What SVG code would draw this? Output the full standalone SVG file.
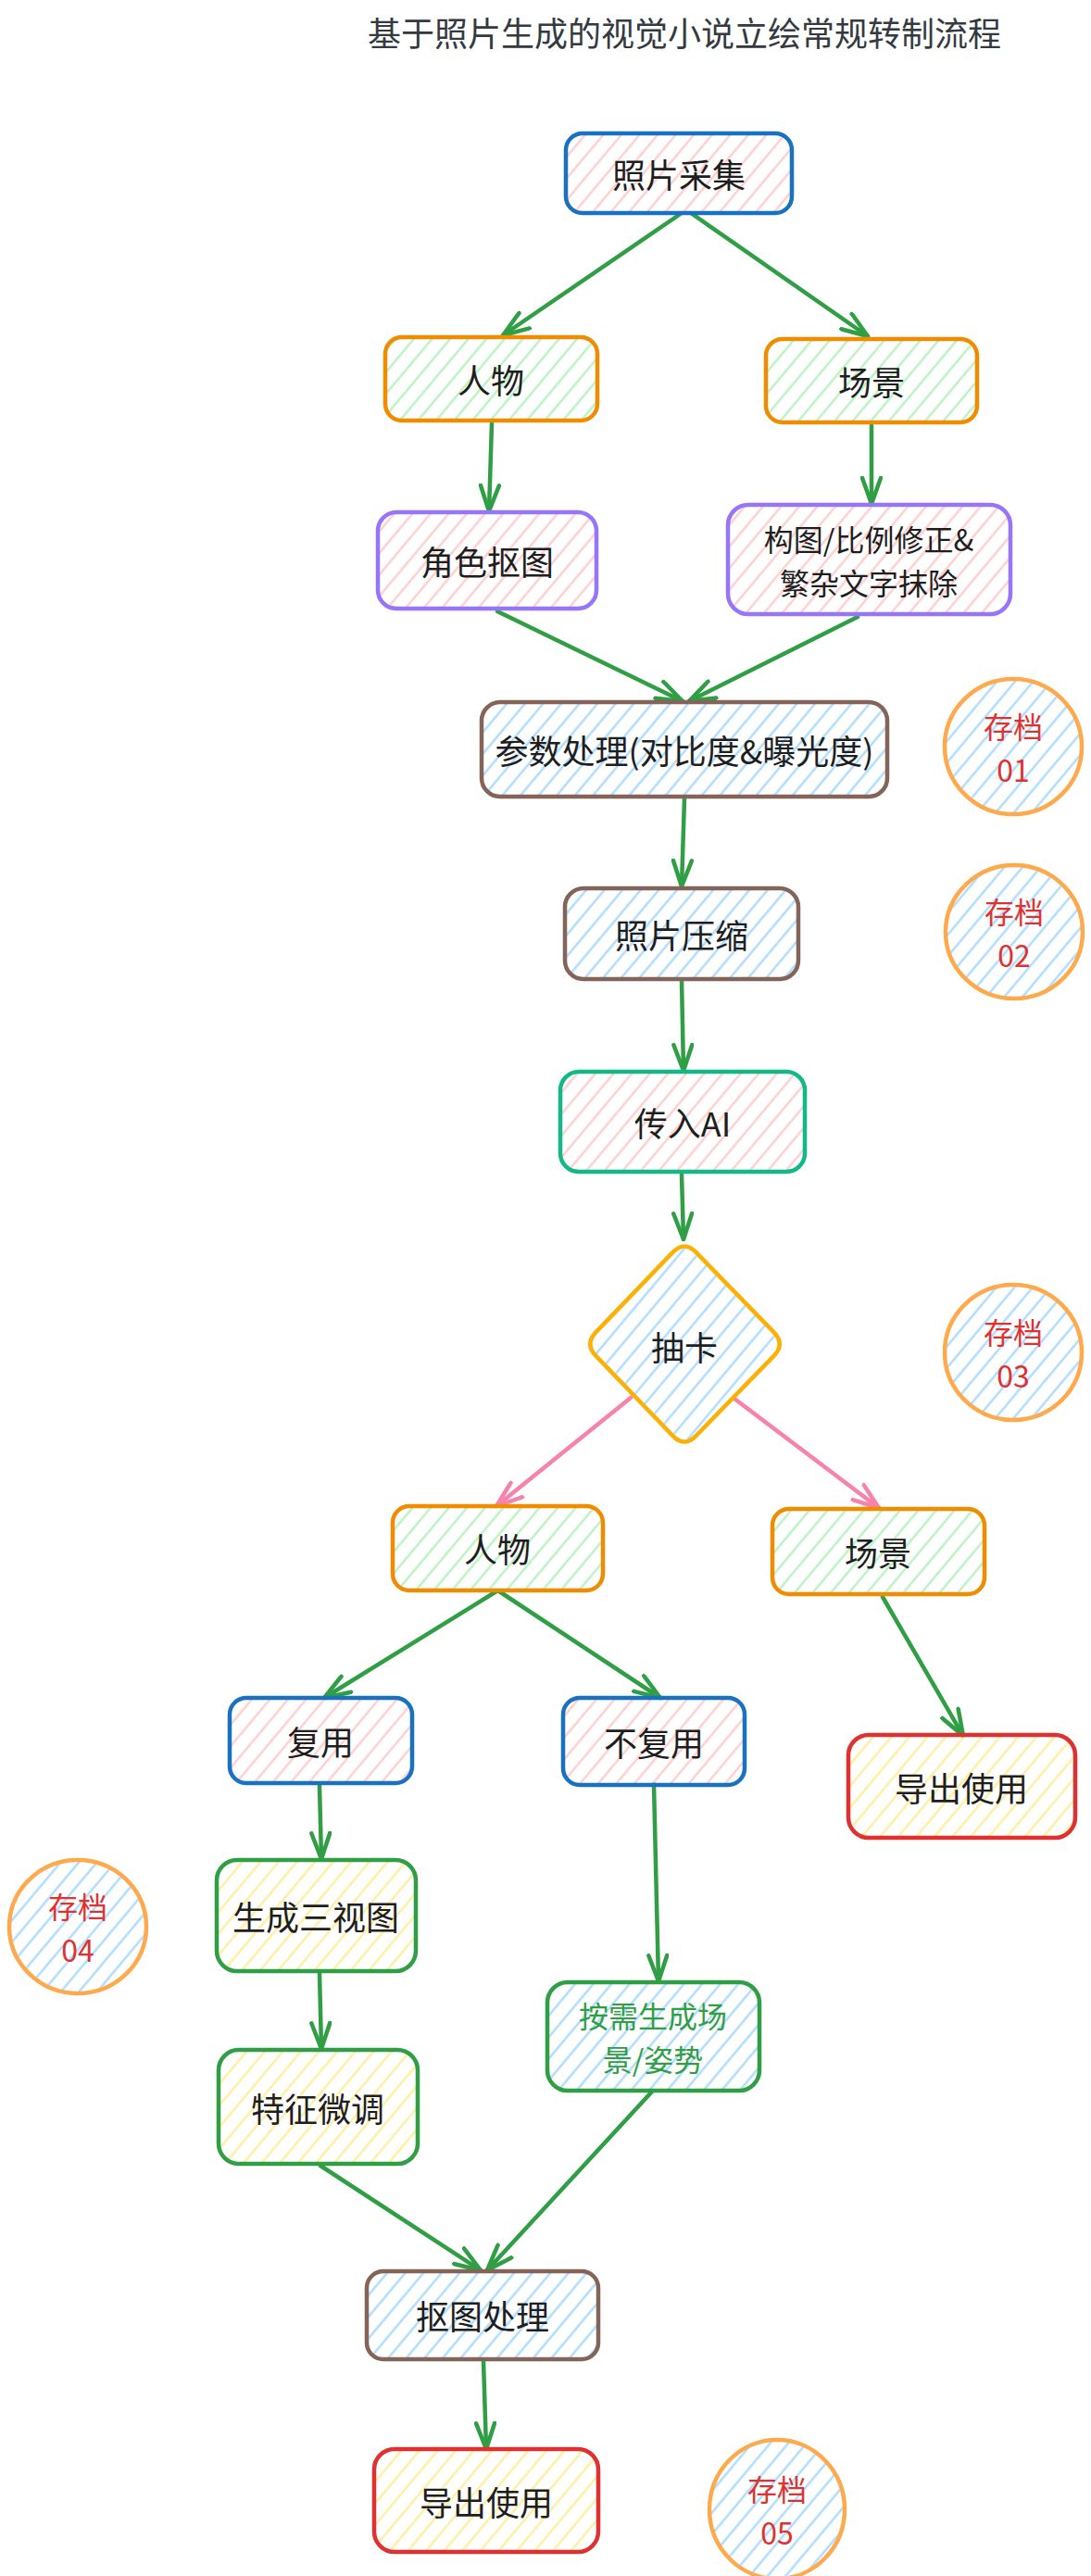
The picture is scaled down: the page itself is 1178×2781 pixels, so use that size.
<svg xmlns="http://www.w3.org/2000/svg" width="1178" height="2781" viewBox="0 0 1178 2781">
<defs>
<pattern id="hp" patternUnits="userSpaceOnUse" width="15" height="15" patternTransform="rotate(40)"><line x1="7.5" y1="0" x2="7.5" y2="15" stroke="#ffc9c9" stroke-width="2.2"/></pattern>
<pattern id="hg" patternUnits="userSpaceOnUse" width="15" height="15" patternTransform="rotate(40)"><line x1="7.5" y1="0" x2="7.5" y2="15" stroke="#b2f2bb" stroke-width="2.2"/></pattern>
<pattern id="hb" patternUnits="userSpaceOnUse" width="15" height="15" patternTransform="rotate(40)"><line x1="7.5" y1="0" x2="7.5" y2="15" stroke="#a5d8ff" stroke-width="2.2"/></pattern>
<pattern id="hy" patternUnits="userSpaceOnUse" width="15" height="15" patternTransform="rotate(40)"><line x1="7.5" y1="0" x2="7.5" y2="15" stroke="#ffec99" stroke-width="2.2"/></pattern>
<marker id="ag" viewBox="0 0 32 24" refX="30" refY="12" markerWidth="32" markerHeight="24" markerUnits="userSpaceOnUse" orient="auto"><path d="M2,2 L30,12 L2,22" fill="none" stroke="#2f9e44" stroke-width="4.5" stroke-linecap="round" stroke-linejoin="round"/></marker>
<marker id="ap" viewBox="0 0 32 24" refX="30" refY="12" markerWidth="32" markerHeight="24" markerUnits="userSpaceOnUse" orient="auto"><path d="M2,2 L30,12 L2,22" fill="none" stroke="#f783ac" stroke-width="4.5" stroke-linecap="round" stroke-linejoin="round"/></marker>
</defs>
<style>
.t{font-family:"Noto Sans CJK SC","Noto Sans",sans-serif;font-size:36px;fill:#1e1e1e;text-anchor:middle;dominant-baseline:central}
.m{font-size:32px}
.title{fill:#343a40}
.red{fill:#e03131}
.grn{fill:#2f9e44}
.n{stroke-width:4.5;stroke-linejoin:round}
.c{fill:url(#hb);stroke:#ffa94d;stroke-width:4.5}
.g{stroke:#2f9e44;stroke-width:4.5;fill:none;stroke-linecap:round;marker-end:url(#ag)}
.p{stroke:#f783ac;stroke-width:4.5;fill:none;stroke-linecap:round;marker-end:url(#ap)}
</style>
<rect width="1178" height="2781" fill="#ffffff"/>
<text class="t title" x="739" y="34">基于照片生成的视觉小说立绘常规转制流程</text>

<g id="connectors">
<line class="g" x1="736" y1="230" x2="543" y2="362"/>
<line class="g" x1="746" y1="230" x2="937" y2="363"/>
<line class="g" x1="531" y1="457" x2="528" y2="552"/>
<line class="g" x1="941" y1="459" x2="941" y2="544"/>
<line class="g" x1="537" y1="660" x2="737" y2="757"/>
<line class="g" x1="926" y1="666" x2="744" y2="757"/>
<line class="g" x1="739" y1="862" x2="736" y2="957"/>
<line class="g" x1="736" y1="1058" x2="738" y2="1156"/>
<line class="g" x1="736" y1="1268" x2="738" y2="1338"/>
<line class="p" x1="681" y1="1509" x2="536" y2="1626"/>
<line class="p" x1="793" y1="1510" x2="949" y2="1628"/>
<line class="g" x1="536" y1="1718" x2="350" y2="1833"/>
<line class="g" x1="539" y1="1718" x2="713" y2="1833"/>
<line class="g" x1="953" y1="1724" x2="1040" y2="1874"/>
<line class="g" x1="345" y1="1928" x2="347" y2="2007"/>
<line class="g" x1="706" y1="1926" x2="711" y2="2139"/>
<line class="g" x1="345" y1="2130" x2="347" y2="2212"/>
<line class="g" x1="346" y1="2338" x2="519" y2="2451"/>
<line class="g" x1="704" y1="2258" x2="526" y2="2451"/>
<line class="g" x1="522" y1="2549" x2="525" y2="2644"/>
</g>

<g id="n1"><rect class="n" x="611" y="144" width="244" height="86" rx="18" fill="url(#hp)" stroke="#1971c2"/><text class="t" x="733" y="187">照片采集</text></g>
<g id="n2"><rect class="n" x="416" y="364" width="229" height="90" rx="18" fill="url(#hg)" stroke="#f08c00"/><text class="t" x="530" y="409">人物</text></g>
<g id="n3"><rect class="n" x="827" y="366" width="228" height="90" rx="18" fill="url(#hg)" stroke="#f08c00"/><text class="t" x="941" y="411">场景</text></g>
<g id="n4"><rect class="n" x="408" y="553" width="236" height="104" rx="20" fill="url(#hp)" stroke="#9775fa"/><text class="t" x="526" y="605">角色抠图</text></g>
<g id="n5"><rect class="n" x="786" y="545" width="305" height="118" rx="22" fill="url(#hp)" stroke="#9775fa"/><text class="t m"><tspan x="938" y="581">构图/比例修正&amp;</tspan><tspan x="938" y="628">繁杂文字抹除</tspan></text></g>
<g id="n6"><rect class="n" x="520" y="758" width="438" height="102" rx="20" fill="url(#hb)" stroke="#846358"/><text class="t" x="739" y="809">参数处理(对比度&amp;曝光度)</text></g>
<g id="n7"><rect class="n" x="610" y="959" width="252" height="98" rx="20" fill="url(#hb)" stroke="#846358"/><text class="t" x="736" y="1008">照片压缩</text></g>
<g id="n8"><rect class="n" x="605" y="1157" width="264" height="108" rx="20" fill="url(#hp)" stroke="#12b886"/><text class="t" x="737" y="1211">传入AI</text></g>
<g id="n9"><path class="n" d="M751.5,1351.9 L835.5,1438.1 Q848,1451 835.5,1463.9 L751.5,1550.1 Q739,1563 726.5,1550.1 L643.5,1463.9 Q631,1451 643.5,1438.1 L726.5,1351.9 Q739,1339 751.5,1351.9 Z" fill="url(#hb)" stroke="#fab005"/><text class="t" x="739" y="1453">抽卡</text></g>
<g id="n10"><rect class="n" x="424" y="1626" width="227" height="91" rx="18" fill="url(#hg)" stroke="#f08c00"/><text class="t" x="537" y="1671">人物</text></g>
<g id="n11"><rect class="n" x="834" y="1629" width="229" height="92" rx="18" fill="url(#hg)" stroke="#f08c00"/><text class="t" x="948" y="1675">场景</text></g>
<g id="n12"><rect class="n" x="248" y="1833" width="197" height="92" rx="18" fill="url(#hp)" stroke="#1971c2"/><text class="t" x="346" y="1879">复用</text></g>
<g id="n13"><rect class="n" x="608" y="1833" width="196" height="94" rx="18" fill="url(#hp)" stroke="#1971c2"/><text class="t" x="706" y="1880">不复用</text></g>
<g id="n14"><rect class="n" x="916" y="1873" width="245" height="111" rx="22" fill="url(#hy)" stroke="#e03131"/><text class="t" x="1038" y="1929">导出使用</text></g>
<g id="n15"><rect class="n" x="234" y="2008" width="215" height="120" rx="22" fill="url(#hy)" stroke="#2f9e44"/><text class="t" x="341" y="2068">生成三视图</text></g>
<g id="n16"><rect class="n" x="236" y="2213" width="215" height="123" rx="22" fill="url(#hy)" stroke="#2f9e44"/><text class="t" x="343" y="2275">特征微调</text></g>
<g id="n17"><rect class="n" x="591" y="2140" width="229" height="117" rx="22" fill="url(#hb)" stroke="#2f9e44"/><text class="t m grn"><tspan x="705" y="2175">按需生成场</tspan><tspan x="705" y="2222">景/姿势</tspan></text></g>
<g id="n18"><rect class="n" x="396" y="2452" width="250" height="95" rx="18" fill="url(#hb)" stroke="#846358"/><text class="t" x="521" y="2499">抠图处理</text></g>
<g id="n19"><rect class="n" x="404" y="2644" width="242" height="111" rx="22" fill="url(#hy)" stroke="#e03131"/><text class="t" x="525" y="2700">导出使用</text></g>

<g id="s1"><ellipse class="c" cx="1094" cy="806" rx="74" ry="73"/><text class="t m red"><tspan x="1094" y="783">存档</tspan><tspan x="1094" y="830">01</tspan></text></g>
<g id="s2"><ellipse class="c" cx="1095" cy="1006" rx="74" ry="72"/><text class="t m red"><tspan x="1095" y="983">存档</tspan><tspan x="1095" y="1030">02</tspan></text></g>
<g id="s3"><ellipse class="c" cx="1094" cy="1460" rx="74" ry="73"/><text class="t m red"><tspan x="1094" y="1437">存档</tspan><tspan x="1094" y="1484">03</tspan></text></g>
<g id="s4"><ellipse class="c" cx="84" cy="2080" rx="74" ry="72"/><text class="t m red"><tspan x="84" y="2057">存档</tspan><tspan x="84" y="2104">04</tspan></text></g>
<g id="s5"><ellipse class="c" cx="839" cy="2709" rx="73" ry="75"/><text class="t m red"><tspan x="839" y="2686">存档</tspan><tspan x="839" y="2733">05</tspan></text></g>
</svg>
